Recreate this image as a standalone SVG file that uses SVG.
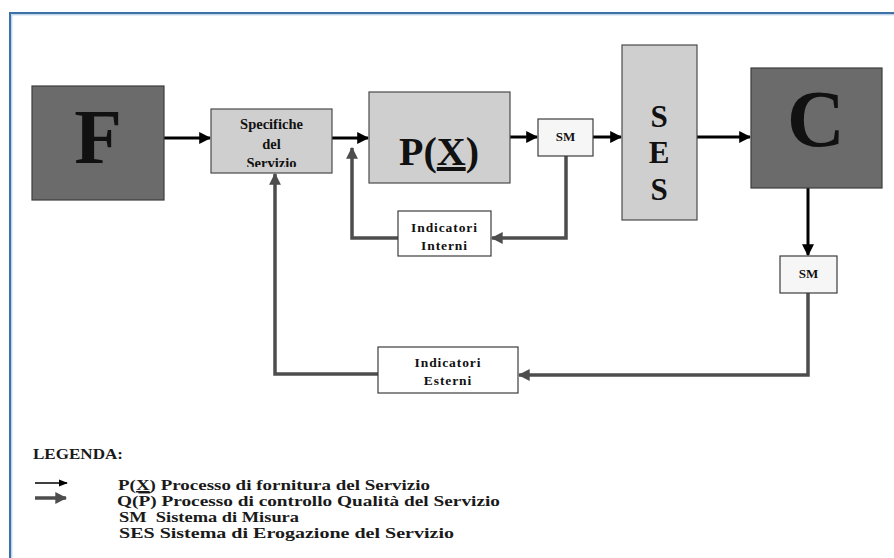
<svg xmlns="http://www.w3.org/2000/svg" width="894" height="558" viewBox="0 0 894 558">
<style>
.dark{fill:#6b6b6b;stroke:#3c3c3c;stroke-width:1.2}
.light{fill:#cfcfcf;stroke:#4a4a4a;stroke-width:1.2}
.sm{fill:#f6f6f6;stroke:#3c3c3c;stroke-width:1.2}
.ind{fill:#ffffff;stroke:#3c3c3c;stroke-width:1.2}
text{font-family:'Liberation Serif','Times New Roman','DejaVu Serif',serif}
.t{font-weight:bold;fill:#111;text-anchor:middle}
.lg{font-size:14.5px;font-weight:bold;fill:#1a1a1a}
.fw{fill:none;stroke:#000;stroke-width:3}
.fb{fill:none;stroke:#4d4d4d;stroke-width:3.5}
</style>
<defs>
<marker id="ab" viewBox="0 0 10 10" refX="9" refY="5" markerWidth="4" markerHeight="4" orient="auto" markerUnits="strokeWidth">
<path d="M0,0 L10,5 L0,10 Z" fill="#000"/>
</marker>
<marker id="ag" viewBox="0 0 10 10" refX="9" refY="5" markerWidth="3.4" markerHeight="3.4" orient="auto" markerUnits="strokeWidth">
<path d="M0,0 L10,5 L0,10 Z" fill="#4d4d4d"/>
</marker>
<marker id="ab1" viewBox="0 0 10 10" refX="9" refY="5" markerWidth="6" markerHeight="6" orient="auto" markerUnits="strokeWidth">
<path d="M0,1 L10,5 L0,9 Z" fill="#000"/>
</marker>
<clipPath id="specClip"><rect x="211" y="109" width="121" height="58"/></clipPath>
</defs>

<g id="frame">
<rect x="10" y="13" width="900" height="560" fill="#fff" stroke="#3d72a8" stroke-width="2"/>
<rect x="11.8" y="14.8" width="900" height="560" fill="none" stroke="#a9c4e0" stroke-width="1"/>
</g>

<g id="connectors">
<line class="fw" x1="164" y1="138" x2="210" y2="138" marker-end="url(#ab)"/>
<line class="fw" x1="332" y1="138" x2="368" y2="138" marker-end="url(#ab)"/>
<line class="fw" x1="510" y1="137" x2="537" y2="137" marker-end="url(#ab)"/>
<line class="fw" x1="593" y1="137" x2="621" y2="137" marker-end="url(#ab)"/>
<line class="fw" x1="697" y1="137" x2="750" y2="137" marker-end="url(#ab)"/>
<line class="fw" x1="808" y1="188" x2="808" y2="255" marker-end="url(#ab)"/>
<polyline class="fb" points="566,156 566,238 492,238" marker-end="url(#ag)"/>
<polyline class="fb" points="398,238 352,238 352,148" marker-end="url(#ag)"/>
<polyline class="fb" points="808,293 808,375 519,375" marker-end="url(#ag)"/>
<polyline class="fb" points="378,374 275,374 275,174" marker-end="url(#ag)"/>
</g>

<g id="F">
<rect class="dark" x="32" y="86" width="132" height="114"/>
<text class="t" x="98" y="163" font-size="78">F</text>
</g>

<g id="specifiche">
<rect class="light" x="211" y="109" width="121" height="64"/>
<g clip-path="url(#specClip)">
<text class="t" x="271.5" y="129" font-size="14.5">Specifiche</text>
<text class="t" x="271.5" y="149" font-size="14.5">del</text>
<text class="t" x="271.5" y="168" font-size="14.5">Servizio</text>
</g>
</g>

<g id="PX">
<rect class="light" x="369" y="92" width="141" height="91"/>
<text class="t" x="439" y="165" font-size="40">P(<tspan text-decoration="underline">X</tspan>)</text>
</g>

<g id="SM1">
<rect class="sm" x="538" y="119" width="55" height="37"/>
<text class="t" x="565.5" y="141" font-size="13">SM</text>
</g>

<g id="SES">
<rect class="light" x="622" y="45" width="75" height="175"/>
<text class="t" x="659" y="127" font-size="31">S</text>
<text class="t" x="659" y="163" font-size="31">E</text>
<text class="t" x="659" y="200" font-size="31">S</text>
</g>

<g id="C">
<rect class="dark" x="751" y="68" width="131" height="120"/>
<text class="t" x="816" y="146" font-size="80" font-weight="normal">C</text>
</g>

<g id="SM2">
<rect class="sm" x="780" y="256" width="57" height="37"/>
<text class="t" x="808.5" y="278" font-size="13">SM</text>
</g>

<g id="indicatori-interni">
<rect class="ind" x="398" y="211" width="93" height="45"/>
<text class="t" x="444.5" y="232" font-size="13.5" letter-spacing="0.9">Indicatori</text>
<text class="t" x="444.5" y="250" font-size="13.5" letter-spacing="0.9">Interni</text>
</g>

<g id="indicatori-esterni">
<rect class="ind" x="378" y="347" width="140" height="46"/>
<text class="t" x="448" y="367" font-size="13.5" letter-spacing="0.9">Indicatori</text>
<text class="t" x="448" y="385" font-size="13.5" letter-spacing="0.9">Esterni</text>
</g>

<g id="legend">
<text class="lg" x="33" y="459" font-size="16" textLength="90" lengthAdjust="spacingAndGlyphs">LEGENDA:</text>
<line x1="35" y1="483" x2="67" y2="483" stroke="#000" stroke-width="1.5" marker-end="url(#ab1)"/>
<line x1="35" y1="498" x2="66" y2="498" stroke="#4d4d4d" stroke-width="3.5" marker-end="url(#ag)"/>
<text class="lg" x="118" y="490" textLength="312" lengthAdjust="spacingAndGlyphs">P(<tspan text-decoration="underline">X</tspan>) Processo di fornitura del Servizio</text>
<text class="lg" x="117" y="506" textLength="383" lengthAdjust="spacingAndGlyphs">Q(<tspan text-decoration="overline">P</tspan>) Processo di controllo Qualità del Servizio</text>
<text class="lg" x="119" y="522" xml:space="preserve" textLength="180" lengthAdjust="spacingAndGlyphs">SM  Sistema di Misura</text>
<text class="lg" x="119" y="538" textLength="335" lengthAdjust="spacingAndGlyphs">SES Sistema di Erogazione del Servizio</text>
</g>
</svg>
